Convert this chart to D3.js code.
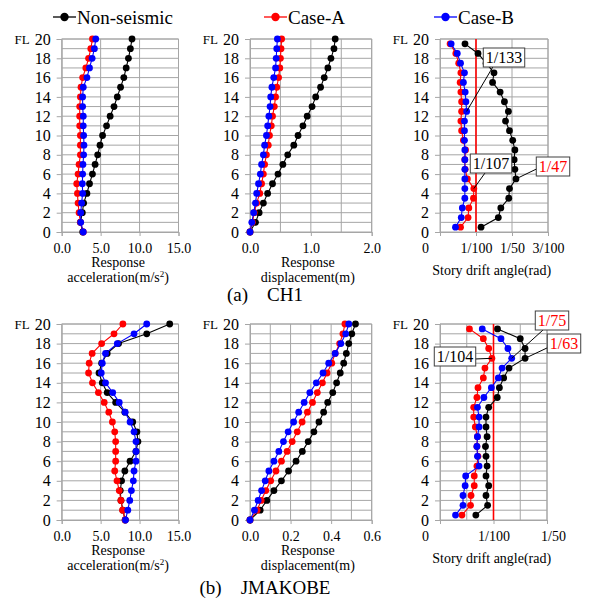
<!DOCTYPE html>
<html>
<head>
<meta charset="utf-8">
<script src="https://cdn.jsdelivr.net/npm/d3@7"></script>
<style>
body { margin: 0; background: #fff; }
text { font-family: "Liberation Serif", "Times New Roman", serif; }
</style>
</head>
<body>
<svg id="chart" width="591" height="601"></svg>
<script>
// floors 0..20 for acc/disp, mid-storey for drift
var floors = d3.range(0, 21);
var driftFloors = d3.range(0.5, 20, 1);
var seriesNames = ["Non-seismic", "Case-A", "Case-B"];
var seriesColors = ["#000000", "#ff0000", "#0000ff"];
var floorTicks = [0, 2, 4, 6, 8, 10, 12, 14, 16, 18, 20];

// (a) CH1
var ch1AccNon = [2.7, 2.4, 2.65, 2.82, 3.24, 3.57, 3.95, 4.29, 4.62, 4.92, 5.25, 5.76, 6.22, 6.72, 7.14, 7.56, 7.98, 8.28, 8.57, 8.82, 9.03];
var ch1AccA = [2.77, 2.4, 2.23, 2.1, 2.02, 1.93, 2.1, 2.23, 2.4, 2.4, 2.4, 2.31, 2.31, 2.31, 2.4, 2.48, 2.69, 3.1, 3.45, 3.74, 3.95];
var ch1AccB = [2.77, 2.44, 2.44, 2.56, 2.69, 2.65, 2.69, 2.73, 2.82, 2.86, 2.82, 2.77, 2.77, 2.69, 2.69, 2.77, 3.24, 3.57, 3.91, 4.2, 4.37];
var ch1DispNon = [0, 0.09, 0.15, 0.22, 0.29, 0.37, 0.46, 0.54, 0.62, 0.72, 0.79, 0.87, 0.94, 1.02, 1.08, 1.16, 1.22, 1.28, 1.33, 1.38, 1.4];
var ch1DispA = [0, 0.04, 0.07, 0.11, 0.16, 0.19, 0.22, 0.24, 0.27, 0.3, 0.32, 0.35, 0.37, 0.4, 0.42, 0.44, 0.47, 0.49, 0.5, 0.51, 0.52];
var ch1DispB = [0, 0.03, 0.06, 0.09, 0.11, 0.14, 0.17, 0.19, 0.22, 0.24, 0.27, 0.29, 0.31, 0.33, 0.34, 0.36, 0.39, 0.42, 0.43, 0.44, 0.45];
var ch1DriftNon = [0.0114, 0.0162, 0.0169, 0.0191, 0.0193, 0.0211, 0.0208, 0.0206, 0.0208, 0.0202, 0.0193, 0.0182, 0.0190, 0.0179, 0.0167, 0.0146, 0.0150, 0.0128, 0.01056, 0.00694];
var ch1DriftA = [0.0057, 0.0078, 0.008, 0.0093, 0.0094, 0.0076, 0.007, 0.0069, 0.0071, 0.0065, 0.006, 0.0058, 0.006, 0.006, 0.0058, 0.0056, 0.0058, 0.0052, 0.0044, 0.0028];
var ch1DriftB = [0.0043, 0.0059, 0.0062, 0.0069, 0.0069, 0.0069, 0.0069, 0.0069, 0.0069, 0.0068, 0.0068, 0.0068, 0.0074, 0.0072, 0.007, 0.0065, 0.0068, 0.0057, 0.0048, 0.0031];

// (b) JMAKOBE
var kobeAccNon = [8.15, 7.86, 7.61, 7.52, 7.69, 8.11, 8.78, 9.54, 9.79, 9.66, 9.12, 8.11, 6.93, 5.84, 5.21, 4.79, 5.13, 5.84, 7.3, 10.92, 13.87];
var kobeAccA = [8.15, 7.82, 7.61, 7.39, 7.1, 6.81, 6.93, 6.93, 6.93, 6.81, 6.51, 6.05, 5.46, 4.71, 3.95, 3.45, 3.53, 3.91, 5.13, 6.72, 7.86];
var kobeAccB = [8.19, 8.49, 8.74, 8.95, 9.2, 9.29, 9.54, 9.54, 9.54, 9.29, 8.78, 8.15, 7.39, 6.55, 5.63, 5.08, 5.21, 5.63, 7.14, 9.29, 10.92];
var kobeDispNon = [0, 0.05, 0.083, 0.118, 0.155, 0.19, 0.227, 0.258, 0.287, 0.315, 0.34, 0.363, 0.383, 0.408, 0.427, 0.445, 0.462, 0.475, 0.487, 0.502, 0.52];
var kobeDispA = [0, 0.035, 0.055, 0.078, 0.102, 0.128, 0.155, 0.183, 0.208, 0.233, 0.257, 0.283, 0.308, 0.332, 0.357, 0.38, 0.403, 0.42, 0.442, 0.458, 0.468];
var kobeDispB = [0, 0.022, 0.04, 0.057, 0.075, 0.093, 0.118, 0.142, 0.165, 0.188, 0.215, 0.24, 0.267, 0.295, 0.327, 0.36, 0.388, 0.42, 0.448, 0.472, 0.487];
var kobeDriftNon = [0.0067, 0.0089, 0.0086, 0.0091, 0.0086, 0.0088, 0.0086, 0.0085, 0.0088, 0.0086, 0.0086, 0.0091, 0.0107, 0.0111, 0.0119, 0.0129, 0.0159, 0.0159, 0.015, 0.01075];
var kobeDriftA = [0.0041, 0.0057, 0.0058, 0.0064, 0.0064, 0.0069, 0.0071, 0.0069, 0.007, 0.0066, 0.0063, 0.0063, 0.0069, 0.0071, 0.0081, 0.0084, 0.0097, 0.0091, 0.0081, 0.0055];
var kobeDriftB = [0.0029, 0.0043, 0.0043, 0.0047, 0.0048, 0.0073, 0.007, 0.0069, 0.007, 0.0073, 0.0073, 0.007, 0.0082, 0.0096, 0.0109, 0.0116, 0.0134, 0.0127, 0.0114, 0.0079];

var accTicks = [0, 5, 10, 15];
var ch1DispTicks = [0, 1, 2];
var kobeDispTicks = [0, 0.2, 0.4, 0.6];
var ch1DriftTicks = [0, 0.01, 0.02, 0.03];
var ch1DriftLabels = ["0", "1/100", "1/50", "3/100"];
var kobeDriftTicks = [0, 0.01, 0.02];
var kobeDriftLabels = ["0", "1/100", "1/50"];
var driftLimit = 0.01;

// peak drift callouts: text, colour, which series, storey
var ch1Notes = [
    { text: "1/133", color: "#000", series: 2, floor: 12.5 },
    { text: "1/107", color: "#000", series: 1, floor: 4.5 },
    { text: "1/47", color: "#ff0000", series: 0, floor: 5.5 }
];
var kobeNotes = [
    { text: "1/75", color: "#ff0000", series: 2, floor: 16.5 },
    { text: "1/63", color: "#ff0000", series: 0, floor: 16.5 },
    { text: "1/104", color: "#000", series: 1, floor: 16.5 }
];

var svg = d3.select("#chart");
var gridColor = "#a6a6a6";

var rows = [
    { top: 39, bottom: 232, caption: "(a)    CH1", captionY: 301,
      panels: [
        { kind: "acc", x0: 61.7, x1: 178.5, domain: [0, 15], grid: 5, ticks: accTicks, fmt: d3.format(".1f"), series: [ch1AccNon, ch1AccA, ch1AccB] },
        { kind: "disp", x0: 250, x1: 371.7, domain: [0, 2], grid: 0.5, ticks: ch1DispTicks, fmt: d3.format(".1f"), series: [ch1DispNon, ch1DispA, ch1DispB] },
        { kind: "drift", x0: 440, x1: 548, domain: [0, 0.03], grid: 0.01, ticks: ch1DriftTicks, labels: ch1DriftLabels, series: [ch1DriftNon, ch1DriftA, ch1DriftB], notes: ch1Notes,
          boxes: [[504, 57.5, 493, 66.7], [491, 163.5, 485, 173], [553, 166.5, 537.5, 168.5]] }
      ] },
    { top: 324, bottom: 520, caption: "(b)    JMAKOBE", captionY: 594,
      panels: [
        { kind: "acc", x0: 61.7, x1: 178.5, domain: [0, 15], grid: 5, ticks: accTicks, fmt: d3.format(".1f"), series: [kobeAccNon, kobeAccA, kobeAccB] },
        { kind: "disp", x0: 250, x1: 371.7, domain: [0, 0.6], grid: 0.1, ticks: kobeDispTicks, fmt: d3.format(".1f"), series: [kobeDispNon, kobeDispA, kobeDispB] },
        { kind: "drift", x0: 440, x1: 547, domain: [0, 0.02], grid: 0.005, ticks: kobeDriftTicks, labels: kobeDriftLabels, series: [kobeDriftNon, kobeDriftA, kobeDriftB], notes: kobeNotes,
          boxes: [[552, 320.5, 543, 330], [564, 343.5, 548, 347.5], [455, 356.5, 475, 359]] }
      ] }
];

rows.forEach(function (row) {
    var y = d3.scaleLinear().domain([0, 20]).range([row.bottom, row.top]);
    row.panels.forEach(function (p) {
        var x = d3.scaleLinear().domain(p.domain).range([p.x0, p.x1]);
        var g = svg.append("g");

        // horizontal grid, one line per floor
        g.selectAll(".hgrid").data(floors).enter().append("line")
            .attr("x1", p.x0).attr("x2", p.x1)
            .attr("y1", function (d) { return y(d); }).attr("y2", function (d) { return y(d); })
            .attr("stroke", gridColor).attr("stroke-width", 1);
        var n = Math.round((p.domain[1] - p.domain[0]) / p.grid);
        var vg = d3.range(0, n + 1).map(function (i) { return p.domain[0] + i * p.grid; });
        g.selectAll(".vgrid").data(vg).enter().append("line")
            .attr("x1", function (d) { return x(d); }).attr("x2", function (d) { return x(d); })
            .attr("y1", row.top).attr("y2", row.bottom)
            .attr("stroke", gridColor).attr("stroke-width", 1);

        // axes
        var ya = g.append("g").attr("transform", "translate(" + p.x0 + ",0)")
            .call(d3.axisLeft(y).tickValues(floorTicks).tickSize(5).tickPadding(6));
        ya.select(".domain").attr("stroke", gridColor);
        ya.selectAll(".tick line").attr("stroke", gridColor);
        ya.selectAll(".tick text").attr("font-size", 16).attr("font-family", "Liberation Serif");
        g.append("text").attr("x", p.x0 - 32).attr("y", y(20)).attr("dy", "0.35em")
            .attr("text-anchor", "end").attr("font-size", 13).text("FL");

        var xAxis = d3.axisBottom(x).tickValues(p.ticks).tickSize(4).tickPadding(7);
        if (p.labels) xAxis.tickFormat(function (d, i) { return p.labels[i]; });
        else xAxis.tickFormat(p.fmt);
        var xa = g.append("g").attr("transform", "translate(0," + row.bottom + ")").call(xAxis);
        xa.select(".domain").attr("stroke", gridColor);
        xa.selectAll(".tick line").attr("stroke", gridColor);
        xa.selectAll(".tick text").attr("font-size", 14).attr("font-family", "Liberation Serif");
        if (p.kind == "drift") {
            xa.selectAll(".tick text").filter(function (d) { return d === 0; }).attr("x", -15);
            if (p.domain[1] == 0.02) xa.selectAll(".tick text").filter(function (d) { return d === 0.02; }).attr("x", 6);
        }

        // axis titles
        var tx = (p.x0 + p.x1) / 2;
        if (p.kind == "acc") {
            var t = g.append("text").attr("x", tx - 2).attr("y", row.bottom + 35).attr("text-anchor", "middle").attr("font-size", 14);
            t.append("tspan").attr("x", tx - 2).text("Response");
            var t2 = t.append("tspan").attr("x", tx - 2).attr("dy", 15).text("acceleration(m/s");
            t2.append("tspan").attr("font-size", 9).attr("dy", -5).text("2");
            t.append("tspan").attr("dy", 5).text(")");
        } else if (p.kind == "disp") {
            var t3 = g.append("text").attr("x", tx - 3).attr("y", row.bottom + 35).attr("text-anchor", "middle").attr("font-size", 14);
            t3.append("tspan").attr("x", tx - 3).text("Response");
            t3.append("tspan").attr("x", tx - 3).attr("dy", 15).text("displacement(m)");
        } else {
            g.append("text").attr("x", 491.7).attr("y", row.bottom + 43).attr("text-anchor", "middle")
                .attr("font-size", 14).text("Story drift angle(rad)");
        }

        // plot frame (top and right)
        g.append("line").attr("x1", p.x0).attr("x2", p.x1).attr("y1", row.top).attr("y2", row.top).attr("stroke", gridColor);
        g.append("line").attr("x1", p.x1).attr("x2", p.x1).attr("y1", row.top).attr("y2", row.bottom).attr("stroke", gridColor);

        if (p.kind == "drift") {
            g.append("line").attr("x1", x(driftLimit)).attr("x2", x(driftLimit))
                .attr("y1", row.top).attr("y2", row.bottom)
                .attr("stroke", "#ff0000").attr("stroke-width", 1.6);
        }

        var fl = p.kind == "drift" ? driftFloors : floors;
        p.series.forEach(function (vals, si) {
            var pts = vals.map(function (v, i) { return [v, fl[i]]; });
            var line = d3.line().x(function (d) { return x(d[0]); }).y(function (d) { return y(d[1]); });
            g.append("path").datum(pts).attr("d", line)
                .attr("fill", "none").attr("stroke", seriesColors[si]).attr("stroke-width", 1.1);
            g.selectAll(".dot" + si).data(pts).enter().append("circle")
                .attr("cx", function (d) { return x(d[0]); })
                .attr("cy", function (d) { return y(d[1]); })
                .attr("r", 3.4).attr("fill", seriesColors[si]);
        });

        // callouts
        if (p.notes) {
            p.notes.forEach(function (nt, k) {
                var b = p.boxes[k];
                var vals = p.series[nt.series];
                var v = vals[driftFloors.indexOf(nt.floor)];
                g.append("line").attr("x1", b[2]).attr("y1", b[3])
                    .attr("x2", x(v)).attr("y2", y(nt.floor))
                    .attr("stroke", "#000").attr("stroke-width", 1);
                var lbl = g.append("text").attr("x", b[0]).attr("y", b[1]).attr("dy", "0.35em")
                    .attr("text-anchor", "middle").attr("font-size", 16).style("fill", nt.color).text(nt.text);
                var bb = lbl.node().getBBox();
                g.insert("rect", function () { return lbl.node(); })
                    .attr("x", bb.x - 2.5).attr("y", b[1] - 9.5)
                    .attr("width", bb.width + 5).attr("height", 19)
                    .attr("fill", "#fff").attr("stroke", "#404040").attr("stroke-width", 1);
            });
        }
    });

    svg.append("text").attr("x", 265).attr("y", row.captionY).attr("text-anchor", "middle")
        .attr("font-size", 19).attr("xml:space", "preserve").style("white-space", "pre").text(row.caption);
});

// legend across the top
var legendX = [53, 264, 434];
seriesNames.forEach(function (name, i) {
    var lg = svg.append("g").attr("transform", "translate(" + legendX[i] + ",17)");
    lg.append("line").attr("x1", 0).attr("x2", 23).attr("y1", 0).attr("y2", 0)
        .attr("stroke", seriesColors[i]).attr("stroke-width", 1.3);
    lg.append("circle").attr("cx", 11.5).attr("cy", 0).attr("r", 4.2).attr("fill", seriesColors[i]);
    lg.append("text").attr("x", 24).attr("y", 0).attr("dy", "0.35em").attr("font-size", 19).text(name);
});
</script>
</body>
</html>
